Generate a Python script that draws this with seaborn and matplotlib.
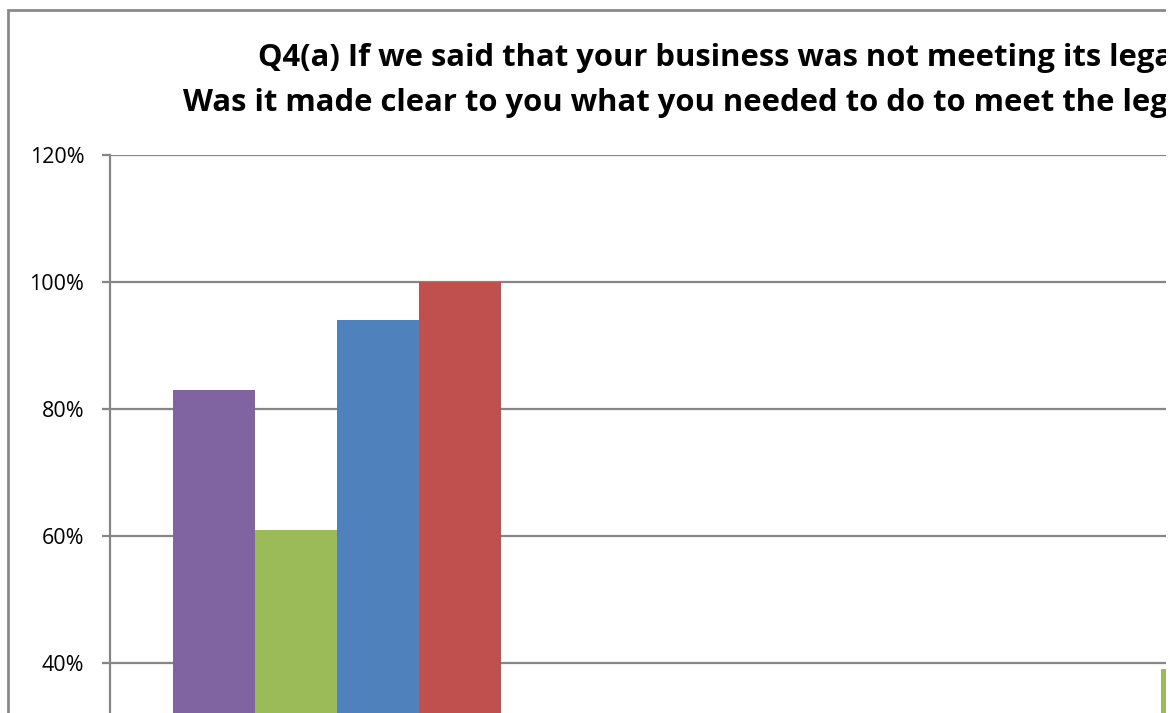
import numpy as np
import pandas as pd
import seaborn as sns
import matplotlib
matplotlib.use("Agg")
import matplotlib.pyplot as plt
from matplotlib.patches import Rectangle

# Survey results (% of respondents), by question group and survey wave
categories = ["Yes", "No"]
series = ["Wave 1", "Wave 2", "Wave 3", "Wave 4"]
wave1 = [83, np.nan]
wave2 = [61, 39]
wave3 = [94, np.nan]
wave4 = [100, np.nan]
colors = ["#8064A2", "#9BBB59", "#4F81BD", "#C0504D"]
yticks = [40, 60, 80, 100, 120]
title_lines = [
    "Q4(a) If we said that your business was not meeting its legal requirements,",
    "Was it made clear to you what you needed to do to meet the legal requirements?",
]

df = pd.DataFrame({
    "category": np.repeat(categories, len(series)),
    "series": series * len(categories),
    "value": [v for vals in zip(wave1, wave2, wave3, wave4) for v in vals],
})

sns.set_theme(style="white")
plt.rcParams["font.family"] = ["Open Sans", "DejaVu Sans"]

W, H = 1170, 713
fig = plt.figure(figsize=(W / 100, H / 100), dpi=100)
fig.patch.set_facecolor("white")

# Plot area in pixel terms: left edge 110, 120% at y=155, 0% at y=917
px_left, px_top, px_bottom, px_right = 110, 155, 917, 1500
ax = fig.add_axes([px_left / W, (H - px_bottom) / H,
                   (px_right - px_left) / W, (px_bottom - px_top) / H])

group_px = 906.0
bar_px = 82.0
sns.barplot(data=df, x="category", y="value", hue="series", palette=colors,
            width=4 * bar_px / group_px, dodge=True, ax=ax, legend=False,
            errorbar=None, saturation=1, edgecolor="none")

x0_px = 337.0
ax.set_xlim((px_left - x0_px) / group_px, (px_right - x0_px) / group_px)
ax.set_ylim(0, 120)
ax.set_yticks(yticks)
ax.set_yticklabels([f"{t}%" for t in yticks], fontsize=15.5, color="black")
ax.set_xticks([])
ax.set_xlabel("")
ax.set_ylabel("")
ax.yaxis.grid(True, color="#868686", linewidth=1.6)
ax.set_axisbelow(True)
for side in ["top", "right", "bottom"]:
    ax.spines[side].set_visible(False)
ax.spines["left"].set_color("#868686")
ax.spines["left"].set_linewidth(1.6)
ax.tick_params(axis="y", which="major", direction="out", length=6, width=1.6,
               color="#868686", pad=12.5, left=True)

# Chart frame
fig.add_artist(Rectangle((8 / W, -0.5), 2.0, 1 - 10 / H + 0.5,
                         transform=fig.transFigure, fill=False,
                         edgecolor="#8a8a8a", linewidth=2))

# Title lines
fig.text(258 / W, 1 - 58 / H, title_lines[0], ha="left", va="center",
         fontsize=22.3, fontweight="bold", color="black")
fig.text(183 / W, 1 - 103 / H, title_lines[1], ha="left", va="center",
         fontsize=22.3, fontweight="bold", color="black")

# Blank strip along the right edge
fig.add_artist(Rectangle((1166 / W, 0), 10 / W, 1, transform=fig.transFigure,
                         facecolor="white", edgecolor="none", zorder=10))

fig.savefig("out.png", dpi=100, facecolor="white")
